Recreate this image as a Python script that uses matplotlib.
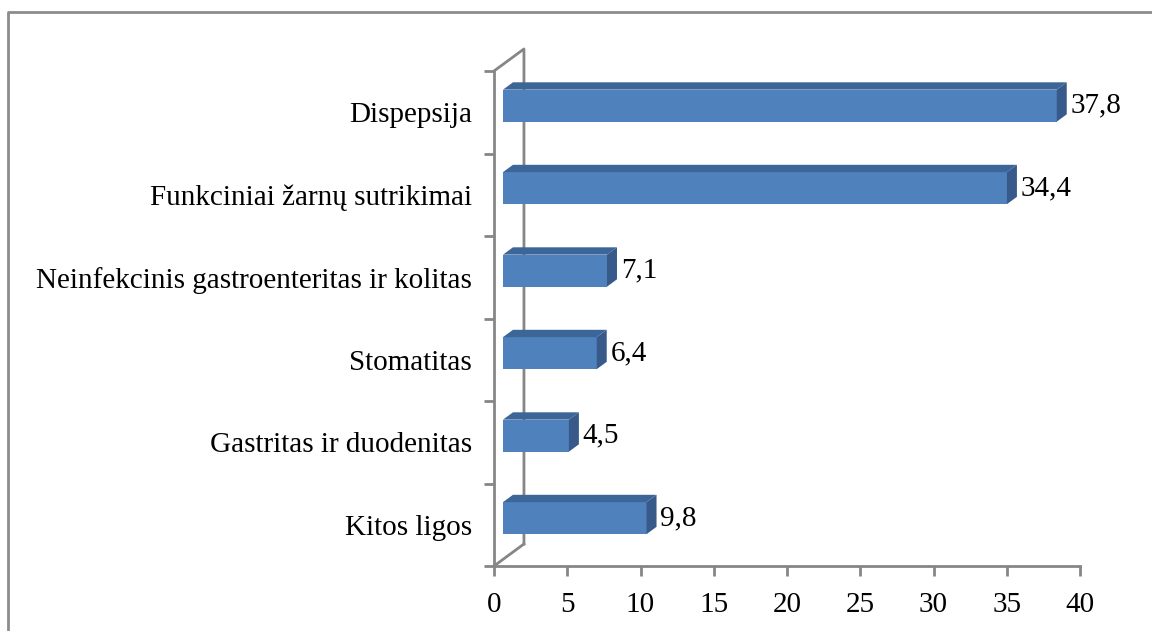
import numpy as np
import matplotlib.pyplot as plt
from matplotlib.patches import Polygon
from matplotlib.lines import Line2D

categories = ['Kitos ligos', 'Gastritas ir duodenitas', 'Stomatitas',
              'Neinfekcinis gastroenteritas ir kolitas',
              'Funkciniai žarnų sutrikimai', 'Dispepsija']
values = [9.8, 4.5, 6.4, 7.1, 34.4, 37.8]
value_labels = ['9,8', '4,5', '6,4', '7,1', '34,4', '37,8']
xticks = [0, 5, 10, 15, 20, 25, 30, 35, 40]

plt.rcParams['font.family'] = ['Liberation Serif', 'DejaVu Serif']

W, H = 1152, 631
fig = plt.figure(figsize=(W / 100, H / 100), dpi=100)
ax = fig.add_axes([494 / W, (H - 566) / H, (1080 - 494) / W, (566 - 71) / H])

grey = '#868686'
front = '#4f81bd'
top_c = '#3d6698'
side_c = '#375a8a'
fs = 21

# depth of the 3d box in data units
D = 2.045
E = 0.267
f0, f1 = 0.3, 0.633
h = 0.388

ax.set_xlim(0, 40)
ax.set_ylim(-0.5, len(categories) - 0.5)

for i, (v, lab) in enumerate(zip(values, value_labels)):
    x0, x1 = f0 * D, v + f0 * D
    y0, y1 = i - h / 2 + f0 * E, i + h / 2 + f0 * E
    dx, dy = (f1 - f0) * D, (f1 - f0) * E
    ax.add_patch(Polygon([(x0, y0), (x1, y0), (x1, y1), (x0, y1)],
                         closed=True, fc=front, ec='none', clip_on=False, zorder=3))
    ax.add_patch(Polygon([(x0, y1), (x1, y1), (x1 + dx, y1 + dy), (x0 + dx, y1 + dy)],
                         closed=True, fc=top_c, ec='none', clip_on=False, zorder=3))
    ax.add_patch(Polygon([(x1, y0), (x1 + dx, y0 + dy), (x1 + dx, y1 + dy), (x1, y1)],
                         closed=True, fc=side_c, ec='none', clip_on=False, zorder=3))
    ax.text(x1 + dx + 0.25, i + f0 * E, lab, fontsize=fs, va='center', ha='left')

# wall lines
n = len(categories)
ax.plot([0, D, D], [n - 0.5, n - 0.5 + E, -0.5 + E], color=grey, lw=2, clip_on=False, zorder=2)
ax.plot([0, D], [-0.5, -0.5 + E], color=grey, lw=2, clip_on=False, zorder=2)

for s in ['top', 'right']:
    ax.spines[s].set_visible(False)
for s in ['left', 'bottom']:
    ax.spines[s].set_color(grey)
    ax.spines[s].set_linewidth(2)

ax.set_xticks(xticks)
ax.set_xticklabels([str(t) for t in xticks], fontsize=fs)
ax.tick_params(axis='x', colors=grey, labelcolor='black', length=7, width=2, pad=12)

ax.set_yticks(range(n))
ax.set_yticklabels(categories, fontsize=fs)
ax.set_yticks(np.arange(-0.5, n, 1), minor=True)
ax.tick_params(axis='y', which='major', length=0, pad=16)
ax.tick_params(axis='y', which='minor', colors=grey, length=7, width=2)

# chart area border (cut off at right and bottom)
fig.add_artist(Line2D([8 / W, 8 / W, 1.01], [-0.01, 1 - 12 / H, 1 - 12 / H],
                      transform=fig.transFigure, color='#8c8c8c', lw=2))

fig.savefig('out.png', dpi=100)
